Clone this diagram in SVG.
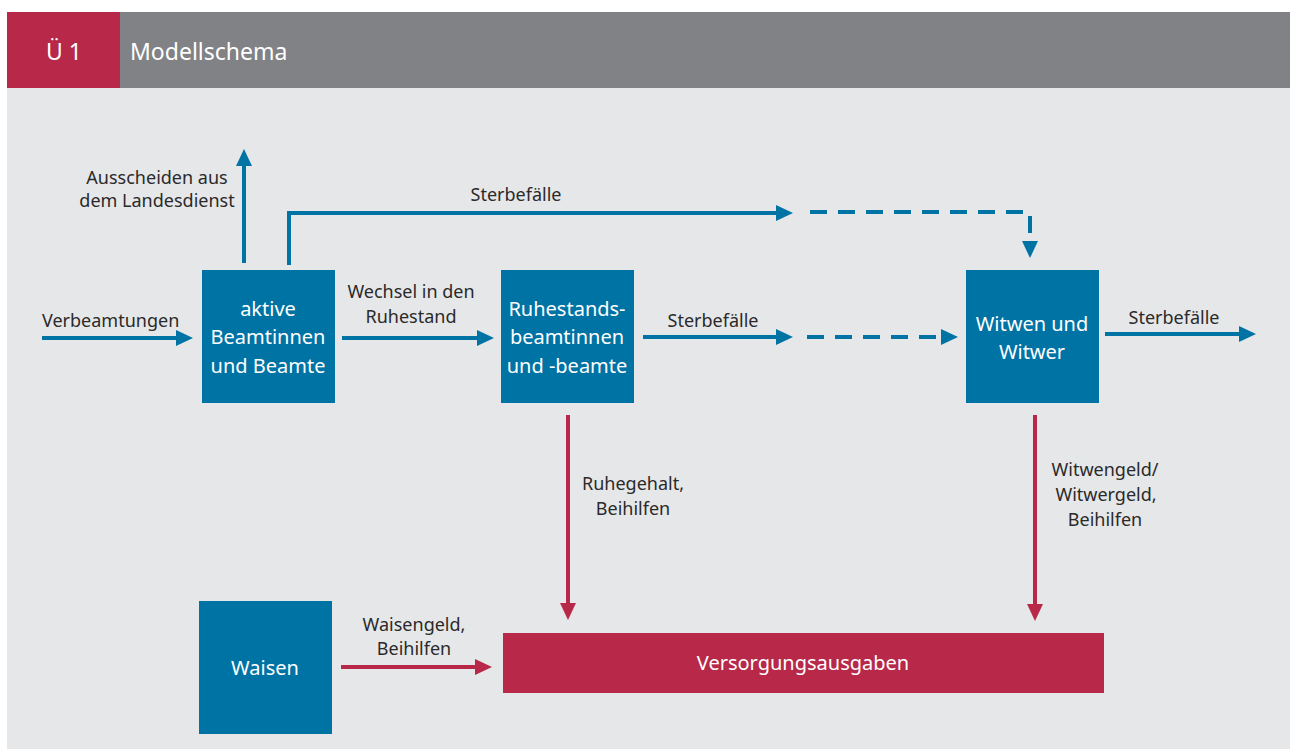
<svg xmlns="http://www.w3.org/2000/svg" width="1290" height="749" viewBox="0 0 1290 749">
<defs>
<marker id="ab" viewBox="0 0 17 16" refX="7" refY="8" markerWidth="17" markerHeight="16" markerUnits="userSpaceOnUse" orient="auto"><path d="M0 0L17 8L0 16z" fill="#0073a5"/></marker>
<marker id="ar" viewBox="0 0 17 16" refX="7" refY="8" markerWidth="17" markerHeight="16" markerUnits="userSpaceOnUse" orient="auto"><path d="M0 0L17 8L0 16z" fill="#b72849"/></marker>
</defs>
<style>
.bl{fill:none;stroke:#0073a5;stroke-width:4;marker-end:url(#ab)}
.da{stroke-dasharray:17 11}
.rd{fill:none;stroke:#b72849;stroke-width:4;marker-end:url(#ar)}
.box{fill:#0073a5}
.bt{font-family:"Noto Sans","Open Sans",sans-serif;font-size:20px;fill:#ffffff;text-anchor:middle}
.lb{font-family:"Noto Sans","Open Sans",sans-serif;font-size:18px;fill:#2b2a29;text-anchor:middle}
.st{text-anchor:start}
.hd{font-family:"Noto Sans","Open Sans",sans-serif;font-size:23px;fill:#ffffff}
</style>
<rect x="0" y="0" width="1290" height="749" fill="#ffffff"/>
<rect x="7" y="88" width="1283" height="661" fill="#e6e7e9"/>
<g id="header">
<rect x="7" y="12" width="113" height="76" fill="#b72849"/>
<rect x="120" y="12" width="1170" height="76" fill="#808285"/>
<text class="hd" x="64" y="60" text-anchor="middle">Ü 1</text>
<text class="hd" x="130" y="60">Modellschema</text>
</g>
<g id="connectors">
<path class="bl" d="M42 338H183"/>
<path class="bl" d="M244 263V159"/>
<path class="bl" d="M289 265V213H783"/>
<path class="bl da" d="M810 212H1030V248"/>
<path class="bl" d="M342 338H484"/>
<path class="bl" d="M643 337H783"/>
<path class="bl da" d="M807 337H948"/>
<path class="bl" d="M1105 334H1246"/>
<path class="rd" d="M568 415V610"/>
<path class="rd" d="M1035 415V611"/>
<path class="rd" d="M341 667H482"/>
<text class="lb st" x="42" y="327">Verbeamtungen</text>
<text class="lb" x="157" y="184">Ausscheiden aus</text>
<text class="lb" x="157" y="207">dem Landesdienst</text>
<text class="lb" x="516" y="201">Sterbefälle</text>
<text class="lb" x="411" y="298">Wechsel in den</text>
<text class="lb" x="411" y="323">Ruhestand</text>
<text class="lb" x="713" y="327">Sterbefälle</text>
<text class="lb" x="1174" y="324">Sterbefälle</text>
<text class="lb" x="633" y="490">Ruhegehalt,</text>
<text class="lb" x="633" y="515">Beihilfen</text>
<text class="lb" x="1105" y="476">Witwengeld/</text>
<text class="lb" x="1106" y="501">Witwergeld,</text>
<text class="lb" x="1105" y="526">Beihilfen</text>
<text class="lb" x="414" y="631">Waisengeld,</text>
<text class="lb" x="414" y="655">Beihilfen</text>
</g>
<g id="aktive">
<rect class="box" x="202" y="270" width="133" height="133"/>
<text class="bt" x="268" y="316">aktive</text>
<text class="bt" x="268" y="344">Beamtinnen</text>
<text class="bt" x="268" y="373">und Beamte</text>
</g>
<g id="ruhestand">
<rect class="box" x="501" y="270" width="133" height="133"/>
<text class="bt" x="567" y="316">Ruhestands-</text>
<text class="bt" x="567" y="344">beamtinnen</text>
<text class="bt" x="567" y="373">und -beamte</text>
</g>
<g id="witwen">
<rect class="box" x="966" y="270" width="133" height="133"/>
<text class="bt" x="1032" y="331">Witwen und</text>
<text class="bt" x="1032" y="359">Witwer</text>
</g>
<g id="waisen">
<rect class="box" x="199" y="601" width="133" height="133"/>
<text class="bt" x="265" y="675">Waisen</text>
</g>
<g id="versorgung">
<rect x="503" y="633" width="601" height="60" fill="#b72849"/>
<text class="bt" x="803" y="670">Versorgungsausgaben</text>
</g>
</svg>
